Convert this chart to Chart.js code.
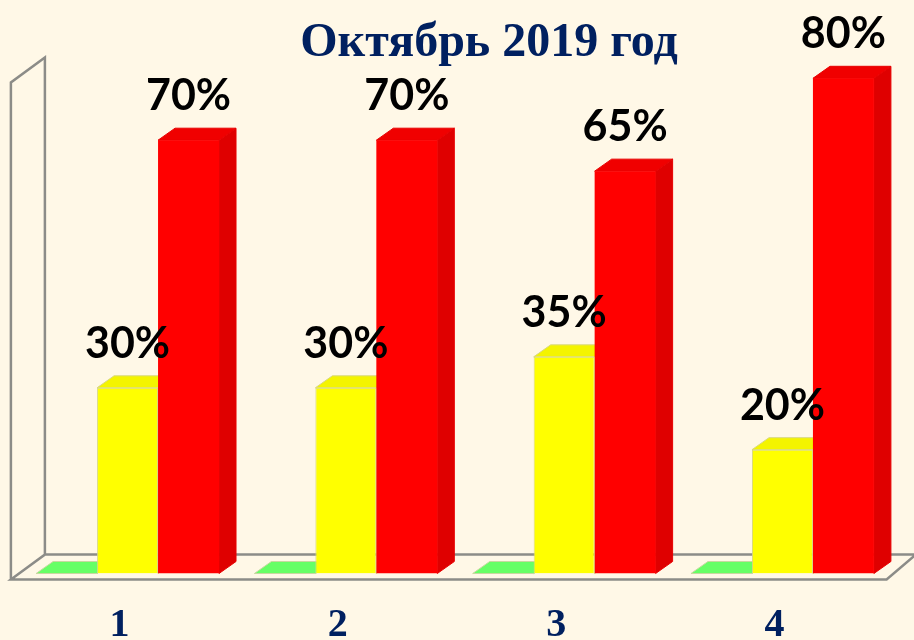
<!DOCTYPE html>
<html>
<head>
<meta charset="utf-8">
<script src="https://cdn.jsdelivr.net/npm/chart.js@4"></script>
<style>
body { margin: 0; background: #FFF8E7; overflow: hidden; }
canvas { display: block; }
</style>
</head>
<body>
<canvas id="chart" width="914" height="640"></canvas>
<script>
const categories = ['1', '2', '3', '4'];
const greenValues = [0, 0, 0, 0];
const yellowValues = [30, 30, 35, 20];
const redValues = [70, 70, 65, 80];
const chartTitle = 'Октябрь 2019 год';

const navy = '#002060';
const barDepth = { x: 17, y: 12 };
const wallDepth = { x: 34, y: 25 };
const sideColors = [
    { top: '#66FF66', side: '#55E055', edge: '#C8D8A0' },
    { top: '#F4F400', side: '#E0E000', edge: '#D8D880' },
    { top: '#F00000', side: '#DF0000', edge: '#E80000' },
];

// floor, side wall, bar depth and the text that sits on top of the bars
const pseudo3d = {
    id: 'pseudo3d',
    beforeDatasetsDraw(chart) {
        const { ctx, chartArea } = chart;
        const base = chart.scales.y.getPixelForValue(0);
        const left = chartArea.left - 7.5;
        const floorY = base + 6;
        const wallTop = floorY - 497;

        ctx.save();
        ctx.strokeStyle = '#8C8C88';
        ctx.lineWidth = 2.5;
        ctx.beginPath();
        ctx.moveTo(left, floorY);
        ctx.lineTo(left, wallTop);
        ctx.lineTo(left + wallDepth.x, wallTop - wallDepth.y);
        ctx.lineTo(left + wallDepth.x, floorY - wallDepth.y);
        ctx.lineTo(left, floorY);
        ctx.lineTo(chartArea.right - 5, floorY);
        ctx.lineTo(chart.width + 2, floorY - wallDepth.y);
        ctx.lineTo(left + wallDepth.x, floorY - wallDepth.y);
        ctx.stroke();

        chart.data.datasets.forEach((ds, i) => {
            const colors = sideColors[i];
            chart.getDatasetMeta(i).data.forEach(bar => {
                const half = bar.width / 2;
                const x0 = bar.x - half, x1 = bar.x + half;
                ctx.lineWidth = 1;
                ctx.strokeStyle = colors.edge;
                ctx.fillStyle = colors.side;
                ctx.beginPath();
                ctx.moveTo(x1, base);
                ctx.lineTo(x1 + barDepth.x, base - barDepth.y);
                ctx.lineTo(x1 + barDepth.x, bar.y - barDepth.y);
                ctx.lineTo(x1, bar.y);
                ctx.closePath();
                ctx.fill();
                ctx.stroke();
                ctx.fillStyle = colors.top;
                ctx.beginPath();
                ctx.moveTo(x0, bar.y);
                ctx.lineTo(x0 + barDepth.x, bar.y - barDepth.y);
                ctx.lineTo(x1 + barDepth.x, bar.y - barDepth.y);
                ctx.lineTo(x1, bar.y);
                ctx.closePath();
                ctx.fill();
                ctx.stroke();
            });
        });
        ctx.restore();
    },
    afterDatasetsDraw(chart) {
        const { ctx } = chart;
        ctx.save();
        ctx.textAlign = 'center';
        ctx.textBaseline = 'alphabetic';
        ctx.fillStyle = '#000000';
        ctx.font = 'bold 43px Lato';
        [1, 2].forEach(i => {
            const values = chart.data.datasets[i].data;
            chart.getDatasetMeta(i).data.forEach((bar, k) => {
                ctx.fillText(values[k] + '%', bar.x, bar.y - 30);
            });
        });
        ctx.fillStyle = navy;
        ctx.font = 'bold 48px "Liberation Serif"';
        ctx.fillText(chartTitle, 489, 56);
        ctx.restore();
    },
};

new Chart(document.getElementById('chart').getContext('2d'), {
    type: 'bar',
    data: {
        labels: categories,
        datasets: [
            { data: greenValues, backgroundColor: '#66FF66', borderWidth: 0 },
            { data: yellowValues, backgroundColor: '#FFFF00', borderColor: '#D8D880', borderWidth: 1 },
            { data: redValues, backgroundColor: '#FF0000', borderWidth: 0 },
        ],
    },
    options: {
        responsive: false,
        animation: false,
        layout: { padding: { top: 16.4, left: 18.4, right: 22.4, bottom: 0 } },
        datasets: { bar: { barPercentage: 1, categoryPercentage: 0.838 } },
        plugins: { legend: { display: false }, tooltip: { enabled: false } },
        scales: {
            y: { display: false, min: 0, max: 90 },
            x: {
                grid: { display: false },
                border: { display: false },
                afterFit(scale) { scale.height = 66.5; },
                ticks: {
                    color: navy,
                    padding: 20,
                    labelOffset: -8,
                    maxRotation: 0,
                    font: { family: 'Liberation Serif', weight: 'bold', size: 40 },
                },
            },
        },
    },
    plugins: [pseudo3d],
});
</script>
</body>
</html>
